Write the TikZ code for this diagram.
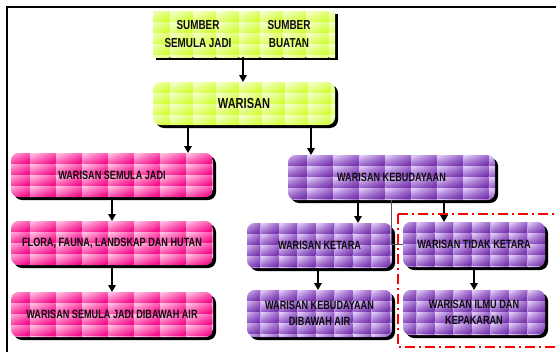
\documentclass[tikz,border=0pt]{standalone}
\usepackage{fontspec}
\newfontfamily\labfont{Liberation Sans}[FakeStretch=0.76]
\usetikzlibrary{arrows.meta,shadings}
\pgfdeclarelayer{background}
\pgfsetlayers{background,main}

% tile palettes: L light corner, M middle, B base, G grout between tiles
\definecolor{grL}{RGB}{250,255,215}
\definecolor{grM}{RGB}{226,255,120}
\definecolor{grB}{RGB}{204,255,40}
\definecolor{grG}{RGB}{236,255,170}
\definecolor{pkL}{RGB}{255,205,232}
\definecolor{pkM}{RGB}{255,90,178}
\definecolor{pkB}{RGB}{240,0,130}
\definecolor{pkG}{RGB}{255,150,205}
\definecolor{puL}{RGB}{232,215,250}
\definecolor{puM}{RGB}{160,105,208}
\definecolor{puB}{RGB}{108,44,162}
\definecolor{puG}{RGB}{190,160,225}

% a text box placed from its pixel corners
\newcommand\mkbox[7][]{%
  \node[box,#1,minimum width={(#5-#3)*1pt},minimum height={(#6-#4)*1pt}]
    (#2) at ({(#3+#5)/2},{(#4+#6)/2}) {#7};}

% tiled background with a drop shadow behind a named box
\newcommand\tilebg[4]{% node, tile width, palette, corner radius
  \begin{pgfonlayer}{background}
    \pgfpointanchor{#1}{north west}\pgfgetlastxy{\bxa}{\bya}%
    \pgfpointanchor{#1}{south east}\pgfgetlastxy{\bxb}{\byb}%
    \fill[black,rounded corners=#4]
      ([shift={(3pt,-3pt)}]#1.south west) rectangle ([shift={(3pt,-3pt)}]#1.north east);
    \begin{scope}
      \clip[rounded corners=#4] (#1.south west) rectangle (#1.north east);
      \fill[#3G] (#1.south west) rectangle (#1.north east);
      \pgfmathtruncatemacro\nc{ceil((\bxb-\bxa)/#2)+1}%
      \pgfmathtruncatemacro\nr{ceil((\bya-\byb)/11)}%
      \foreach \i in {0,...,\nc}{\foreach \j in {0,...,\nr}{%
        \pgfmathsetmacro\tx{\bxa+(\i-0.25)*#2}%
        \pgfmathsetmacro\ty{\bya-\j*11}%
        \shade[upper left=#3L,upper right=#3M,lower left=#3M,lower right=#3B]
          (\tx pt,\ty pt) rectangle ++(#2pt-1pt,-10pt);
      }}
    \end{scope}
  \end{pgfonlayer}}

\begin{document}
\begin{tikzpicture}[x=1pt,y=-1pt,
  box/.style={inner sep=0pt,outer sep=0pt,draw=none,align=center,text=black!95,
    font=\labfont\bfseries\fontsize{12}{16.5}\selectfont},
  topbox/.style={font=\labfont\bfseries\fontsize{13}{18.5}\selectfont},
  bigbox/.style={font=\labfont\bfseries\fontsize{14.5}{16}\selectfont},
  arr/.style={line width=1.6pt,-{Triangle[length=7pt,width=7.5pt]}},
  link/.style={line width=0.8pt,black!65},
  group/.style={red,line width=1.8pt,dash pattern=on 10pt off 4pt on 2pt off 4pt}]
\useasboundingbox (0,0) rectangle (556,351);
\clip (0,0) rectangle (556,351);

% page frame
\draw[line width=2pt] (7,360) -- (7,6.5) -- (570,6.5);

% boxes
\mkbox[topbox]{sumA}{153}{11}{243}{57}{SUMBER\\SEMULA JADI}
\mkbox[topbox]{sumB}{243}{11}{335}{57}{SUMBER\\BUATAN}
\mkbox[bigbox]{war}{153}{82}{335}{125}{WARISAN}
\mkbox{sj}{11}{153}{213}{197}{WARISAN SEMULA JADI}
\mkbox{flora}{11}{221}{213}{265}{FLORA, FAUNA, LANDSKAP DAN HUTAN}
\mkbox{sjair}{11}{292}{213}{337}{WARISAN SEMULA JADI DIBAWAH AIR}
\mkbox{keb}{288}{155}{495}{200}{WARISAN KEBUDAYAAN}
\mkbox{ketara}{247}{223}{392}{268}{WARISAN KETARA}
\mkbox{tidak}{403}{222}{545}{267}{WARISAN TIDAK KETARA}
\mkbox{kebair}{247}{290}{392}{337}{WARISAN KEBUDAYAAN\\DIBAWAH AIR}
\mkbox{ilmu}{403}{290}{545}{335}{WARISAN ILMU DAN\\KEPAKARAN}

\tilebg{sumA}{23}{gr}{0pt}
\tilebg{sumB}{23}{gr}{0pt}
\tilebg{war}{23}{gr}{8pt}
\tilebg{sj}{26}{pk}{8pt}
\tilebg{flora}{26}{pk}{8pt}
\tilebg{sjair}{26}{pk}{8pt}
\tilebg{keb}{26}{pu}{8pt}
\tilebg{ketara}{18.5}{pu}{8pt}
\tilebg{tidak}{18.5}{pu}{8pt}
\tilebg{kebair}{18.5}{pu}{8pt}
\tilebg{ilmu}{18.5}{pu}{8pt}

% connectors
\draw[arr] (sumA.south east) -- (sumA.south east |- war.north);
\draw[arr] ([xshift=-56pt]war.south) -- ([xshift=-56pt]war.south |- sj.north);
\draw[arr] ([xshift=67pt]war.south) -- ([xshift=67pt]war.south |- keb.north);
\draw[arr] (sj.south) -- (sj.south |- flora.north);
\draw[arr] (flora.south) -- (flora.south |- sjair.north);
\draw[arr] ([xshift=-33.5pt]keb.south) -- ([xshift=-33.5pt]keb.south |- ketara.north);
\draw[arr] ([xshift=52.5pt]keb.south) -- ([xshift=52.5pt]keb.south |- tidak.north);
\draw[arr] ([xshift=-1.5pt]ketara.south) -- ([xshift=-1.5pt]ketara.south |- kebair.north);
\draw[arr] (tidak.south) -- (tidak.south |- ilmu.north);
\draw[link] (keb.south) |- (tidak.west);

% grouping frame
\draw[group] (398,214) rectangle (570,347);
\end{tikzpicture}
\end{document}
